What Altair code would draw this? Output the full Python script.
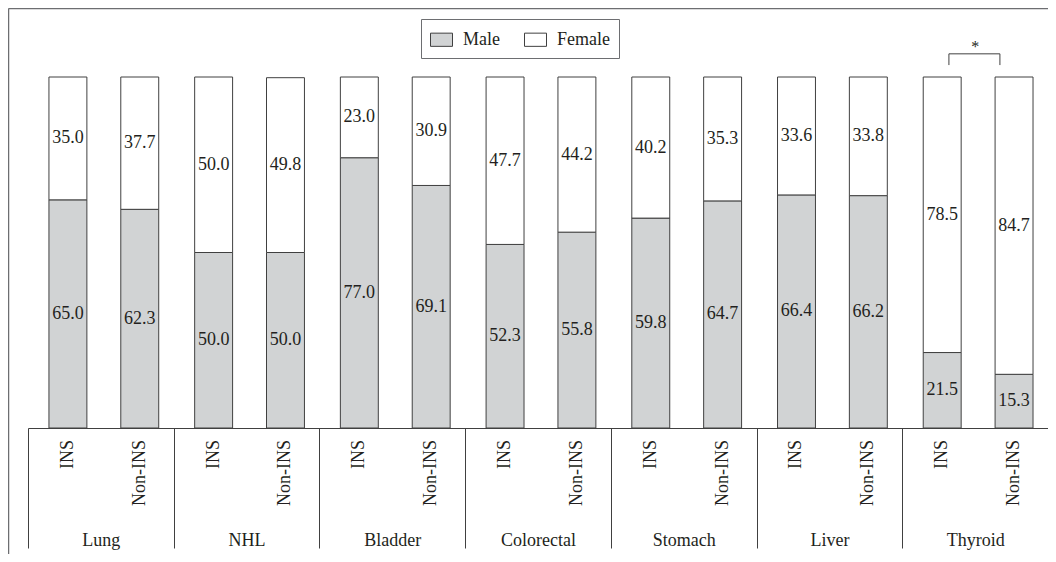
import altair as alt
import pandas as pd

# ---- data ----
categories = ["Lung", "NHL", "Bladder", "Colorectal", "Stomach", "Liver", "Thyroid"]
groups = ["INS", "Non-INS"]
male_ins = [65.0, 50.0, 77.0, 52.3, 59.8, 66.4, 21.5]
female_ins = [35.0, 50.0, 23.0, 47.7, 40.2, 33.6, 78.5]
male_non = [62.3, 50.0, 69.1, 55.8, 64.7, 66.2, 15.3]
female_non = [37.7, 49.8, 30.9, 44.2, 35.3, 33.8, 84.7]
sexes = ["Male", "Female"]
sex_colors = ["#d1d3d4", "#ffffff"]
sig_categories = ["Thyroid"]
sig_labels = ["*"]

rows = []
for i, c in enumerate(categories):
    for g, m, f in (("INS", male_ins[i], female_ins[i]), ("Non-INS", male_non[i], female_non[i])):
        rows.append({"category": c, "group": g, "sex": "Male", "order": 0, "value": m})
        rows.append({"category": c, "group": g, "sex": "Female", "order": 1, "value": f})
df = pd.DataFrame(rows)
bars_df = pd.DataFrame([{"category": c, "group": g} for c in categories for g in groups])
sig_df = pd.DataFrame({"category": sig_categories, "label": sig_labels})

FONT = "Liberation Serif"
TXT = "#231f20"
LINE = "#404040"
FRAME = "#6d6e71"
W, H = 1020, 351
FS = 18

x_axis = alt.Axis(title=None, labelAngle=0, labelFont=FONT, labelFontSize=FS, labelColor=TXT,
                  labelPadding=-17, labelBaseline="top", labelOverlap=False,
                  tickBand="extent", tickSize=120, tickColor=LINE, tickWidth=1,
                  domainColor=LINE, domainWidth=1, grid=False)
x_scale = alt.Scale(domain=categories, paddingInner=0, paddingOuter=0)


def X(**kw):
    return alt.X("category:N", sort=categories, scale=x_scale, axis=x_axis, **kw)


xoff = alt.XOffset("group:N", sort=groups,
                   scale=alt.Scale(domain=groups, paddingInner=0.472, paddingOuter=0.25, align=0.583))
y_scale = alt.Scale(domain=[0, 100])

stacked = alt.Chart(df).transform_stack(
    stack="value", groupby=["category", "group"], as_=["y0", "y1"],
    sort=[alt.SortField("order", "ascending")]
).transform_calculate(ymid="(datum.y0 + datum.y1) / 2")

bars = stacked.mark_bar(stroke=LINE, strokeWidth=1).encode(
    x=X(), xOffset=xoff,
    y=alt.Y("y0:Q", scale=y_scale, axis=None),
    y2="y1:Q",
    color=alt.Color("sex:N", sort=sexes, scale=alt.Scale(domain=sexes, range=sex_colors),
                    legend=alt.Legend(title=None, orient="none", legendX=393, legendY=-58,
                                      direction="horizontal", symbolType="M-1,-0.6H1V0.6H-1Z",
                                      symbolSize=484, symbolStrokeColor=LINE, symbolStrokeWidth=1,
                                      labelFont=FONT, labelFontSize=FS, labelColor=TXT,
                                      labelOffset=10, columnPadding=22, padding=9,
                                      strokeColor=FRAME, fillColor="white")),
)

values = stacked.mark_text(font=FONT, fontSize=FS, color=TXT, align="center", baseline="middle").encode(
    x=X(), xOffset=xoff,
    y=alt.Y("ymid:Q", scale=y_scale, axis=None),
    text=alt.Text("value:Q", format=".1f"),
)

group_labels = alt.Chart(bars_df).mark_text(font=FONT, fontSize=FS, color=TXT, angle=270,
                                            align="right", baseline="middle").encode(
    x=X(), xOffset=xoff, y=alt.value(H + 12), text="group:N",
)

# significance bracket
BR_TOP, BR_BOT, STAR_Y = 106.6, 103.4, 108.6
br_h = alt.Chart(sig_df).mark_rule(color=LINE, strokeWidth=1).encode(
    x=X(bandPosition=0.32), x2=alt.X2("category:N", bandPosition=0.67),
    y=alt.Y("t:Q", scale=y_scale, axis=None),
).transform_calculate(t=str(BR_TOP))
br_v = alt.Chart(sig_df).transform_calculate(t=str(BR_TOP), b=str(BR_BOT))
br_l = br_v.mark_rule(color=LINE, strokeWidth=1).encode(
    x=X(bandPosition=0.32), y=alt.Y("b:Q", scale=y_scale, axis=None), y2="t:Q")
br_r = br_v.mark_rule(color=LINE, strokeWidth=1).encode(
    x=X(bandPosition=0.67), y=alt.Y("b:Q", scale=y_scale, axis=None), y2="t:Q")
star = alt.Chart(sig_df).transform_calculate(s=str(STAR_Y)).mark_text(
    font=FONT, fontSize=16, color=TXT, align="center").encode(
    x=X(bandPosition=0.5), y=alt.Y("s:Q", scale=y_scale, axis=None), text="label:N")

# outer frame (decoration)
one = alt.Data(values=[{"k": 1}])
frame_top = alt.Chart(one).mark_rule(color=FRAME, strokeWidth=1.5).encode(
    x=alt.value(-19.5), x2=alt.value(W + 10), y=alt.value(-68.5))
frame_left = alt.Chart(one).mark_rule(color=FRAME, strokeWidth=1.5).encode(
    x=alt.value(-19.5), y=alt.value(-68.5), y2=alt.value(H + 130))

chart = alt.layer(frame_top, frame_left, bars, values, group_labels, br_h, br_l, br_r, star).properties(
    width=W, height=H,
    autosize=alt.AutoSizeParams(type="none"),
    padding={"left": 20, "top": 69, "right": 0, "bottom": 126},
).configure_view(strokeWidth=0)

chart.save("out.html", embed_options={"renderer": "svg", "actions": False})
